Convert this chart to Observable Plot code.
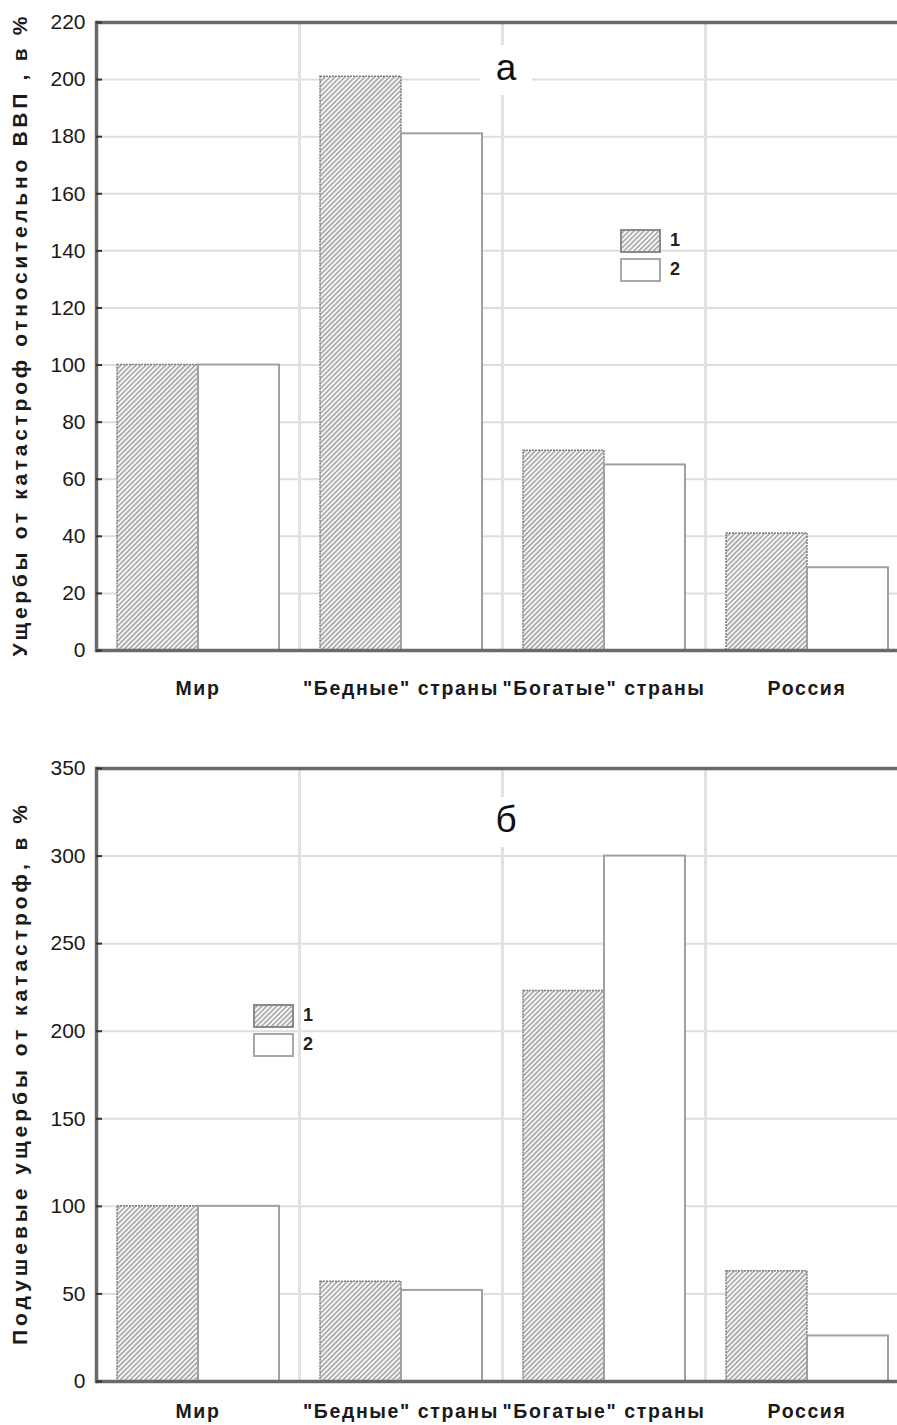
<!DOCTYPE html>
<html><head><meta charset="utf-8">
<script src="https://cdn.jsdelivr.net/npm/d3@7"></script>
<script src="https://cdn.jsdelivr.net/npm/@observablehq/plot@0.6"></script>
<style>
html,body{margin:0;padding:0;background:#fff;overflow:hidden}
#wrap{position:relative;width:897px;height:1425px;overflow:hidden;font-family:"Liberation Sans",Arial,sans-serif}
#wrap svg{display:block}
.panel-label{position:absolute;background:#fff;font-size:37px;color:#111;text-align:center;width:52px;height:50px;line-height:46px}
.legend{position:absolute;font-weight:bold;font-size:18px;color:#222}
.legend .row{display:flex;align-items:center;height:29px}
.legend .row span{margin-left:9px}
</style></head><body><div id="wrap"></div><script>
// ---------- data ----------
const categories = ["Мир", "\"Бедные\" страны", "\"Богатые\" страны", "Россия"];
const series = ["1", "2"];
const gdpShare1 = [100, 201, 70, 41];
const gdpShare2 = [100, 181, 65, 29];
const perCapita1 = [100, 57, 223, 63];
const perCapita2 = [100, 52, 300, 26];
const ticksA = [0, 20, 40, 60, 80, 100, 120, 140, 160, 180, 200, 220];
const ticksB = [0, 50, 100, 150, 200, 250, 300, 350];
const labelA = "Ущербы от катастроф относительно ВВП , в %";
const labelB = "Подушевые ущербы от катастроф, в %";
const panelA = "а";
const panelB = "б";

const wrap = document.getElementById("wrap");
const FONT = '"Liberation Sans", Arial, sans-serif';

function addPattern(svgEl, id) {
  const svg = d3.select(svgEl);
  const defs = svg.insert("defs", ":first-child");
  const p = defs.append("pattern").attr("id", id).attr("patternUnits", "userSpaceOnUse")
    .attr("width", 3.5).attr("height", 3.5).attr("patternTransform", "rotate(45)");
  p.append("rect").attr("width", 3.5).attr("height", 3.5).attr("fill", "#f6f6f6");
  p.append("rect").attr("width", 1.5).attr("height", 3.5).attr("fill", "#a2a2a2");
}

function makeChart(cfg) {
  const rows = categories.flatMap((c, i) => [
    {cat: c, s: series[0], v: cfg.v1[i]},
    {cat: c, s: series[1], v: cfg.v2[i]}
  ]);
  const yMax = cfg.ticks[cfg.ticks.length - 1];
  const chart = Plot.plot({
    width: 897, height: cfg.height,
    marginLeft: 96, marginRight: -11, marginTop: cfg.mt, marginBottom: cfg.mb,
    style: {fontFamily: FONT, background: "white", color: "#1a1a1a"},
    fx: {domain: categories, padding: 0},
    x: {domain: series, paddingInner: 0, paddingOuter: 0.245, axis: null},
    y: {domain: [0, yMax], axis: null},
    marks: [
      Plot.ruleY(cfg.ticks, {stroke: "#dedede", strokeWidth: 2}),
      Plot.frame({anchor: "left", stroke: "#e2e2e2", strokeWidth: 3}),
      Plot.barY(rows.filter(d => d.s === series[0]), {fx: "cat", x: "s", y: "v",
        fill: `url(#${cfg.pid})`, stroke: "#808080", strokeWidth: 1.5, strokeDasharray: "2,1"}),
      Plot.barY(rows.filter(d => d.s === series[1]), {fx: "cat", x: "s", y: "v",
        fill: "white", stroke: "#a0a0a0", strokeWidth: 2}),
      Plot.ruleY([0, yMax], {stroke: "#6a6a6a", strokeWidth: 3.5}),
      Plot.frame({anchor: "left", facetAnchor: "left", stroke: "#6a6a6a", strokeWidth: 3.5}),
      Plot.tickY(cfg.ticks, {facetAnchor: "left", insetRight: 197, stroke: "#333", strokeWidth: 2}),
      Plot.axisY({ticks: cfg.ticks, tickSize: 0, tickPadding: 11, fontSize: 21,
        label: cfg.label, labelAnchor: "center", labelArrow: "none", labelOffset: 84}),
      Plot.axisFx({anchor: "bottom", tickSize: 0, tickPadding: cfg.fxPad, fontSize: 19.5,
        fontWeight: "bold", label: null})
    ]
  });
  addPattern(chart, cfg.pid);
  const lab = d3.select(chart).select('[aria-label="y-axis label"]');
  lab.style("font-weight", "bold").style("font-size", "21px");
  lab.selectAll("text").attr("textLength", cfg.labelLen).attr("lengthAdjust", "spacing");
  d3.select(chart).select('[aria-label="fx-axis tick label"]').style("letter-spacing", "1.6px");
  return chart;
}

const chartA = makeChart({v1: gdpShare1, v2: gdpShare2, ticks: ticksA, label: labelA,
  height: 712, mt: 22, mb: 62, fxPad: 31, pid: "hatchA", labelLen: 640});
const chartB = makeChart({v1: perCapita1, v2: perCapita2, ticks: ticksB, label: labelB,
  height: 713, mt: 56, mb: 44, fxPad: 23, pid: "hatchB", labelLen: 540});
wrap.appendChild(chartA);
wrap.appendChild(chartB);

function panelLabel(text, left, top) {
  const d = document.createElement("div");
  d.className = "panel-label";
  d.style.left = left + "px"; d.style.top = top + "px";
  d.textContent = text;
  wrap.appendChild(d);
}
panelLabel(panelA, 480, 45);
panelLabel(panelB, 480, 797);

function legend(left, top, pid) {
  const d = document.createElement("div");
  d.className = "legend";
  d.style.left = left + "px"; d.style.top = top + "px";
  const fills = [`url(#${pid})`, "white"];
  const strokes = ["#8a8a8a", "#a8a8a8"];
  series.forEach((s, i) => {
    const row = document.createElement("div");
    row.className = "row";
    row.innerHTML = `<svg width="41" height="24"><rect x="1" y="1" width="39" height="22" fill="${fills[i]}" stroke="${strokes[i]}" stroke-width="2"/></svg><span>${s}</span>`;
    d.appendChild(row);
  });
  wrap.appendChild(d);
}
legend(620, 226, "hatchA");
legend(253, 1001, "hatchB");
</script></body></html>
